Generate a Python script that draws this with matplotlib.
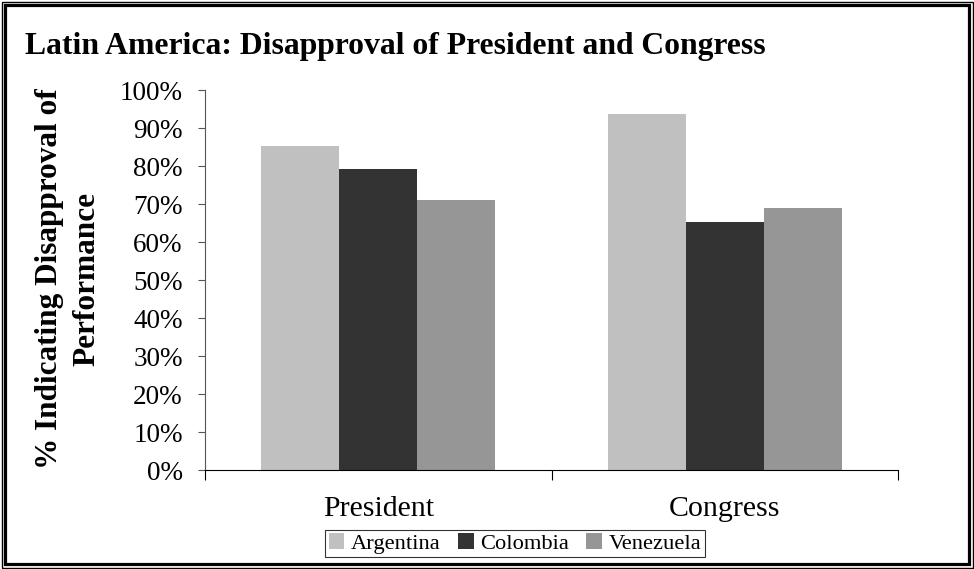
import matplotlib
matplotlib.use("Agg")
import matplotlib.pyplot as plt
from matplotlib.patches import Rectangle
import numpy as np

categories = ["President", "Congress"]
countries = ["Argentina", "Colombia", "Venezuela"]
argentina = [0.853, 0.936]
colombia = [0.792, 0.653]
venezuela = [0.710, 0.689]
series = [argentina, colombia, venezuela]
colors = ["#C0C0C0", "#333333", "#969696"]
yticks = np.arange(0, 1.01, 0.1)
ytick_labels = ["%d%%" % round(v * 100) for v in yticks]

plt.rcParams["font.family"] = ["Liberation Serif", "DejaVu Serif"]

W, H = 974, 569
fig = plt.figure(figsize=(W / 100, H / 100), dpi=100)
ax = fig.add_axes([205 / W, 1 - 470 / H, (898 - 205) / W, (470 - 90) / H])

x = np.arange(len(categories))
width = 0.2254
for i, (vals, c, name) in enumerate(zip(series, colors, countries)):
    ax.bar(x + (i - 1) * width, vals, width, color=c, label=name, linewidth=0)

ax.set_xlim(-0.5, 1.5)
ax.set_ylim(0, 1)
ax.set_yticks(yticks)
ax.set_yticklabels(ytick_labels, fontsize=19.5)
ax.tick_params(axis="y", direction="out", length=5, width=0.8, pad=11, color="#555555")

ax.set_xticks(x)
ax.set_xticklabels(categories, fontsize=21.5)
ax.tick_params(axis="x", which="major", length=0, pad=19)
ax.set_xticks([-0.5, 0.5, 1.5], minor=True)
ax.tick_params(axis="x", which="minor", direction="out", length=7, width=0.8)

for s in ["top", "right"]:
    ax.spines[s].set_visible(False)
ax.spines["left"].set_color("#555555")
ax.spines["left"].set_linewidth(0.8)
ax.spines["bottom"].set_linewidth(0.8)

fig.text(68 / W, 1 - 279 / H, "% Indicating Disapproval of\nPerformance",
         fontsize=22.5, fontweight="bold", rotation=90, ha="center", va="center",
         multialignment="center", linespacing=1.4)

fig.text(25 / W, 1 - 54 / H, "Latin America: Disapproval of President and Congress",
         fontsize=22.8, fontweight="bold", va="baseline", ha="left")

leg = fig.legend(loc="center", bbox_to_anchor=(515 / W, 1 - 543.5 / H), ncol=3,
                 fontsize=16.2, frameon=True, fancybox=False, handlelength=0.7,
                 handleheight=0.7, handletextpad=0.3, columnspacing=0.75,
                 borderpad=0.15, borderaxespad=0)
leg.get_frame().set_edgecolor("black")
leg.get_frame().set_linewidth(0.8)

# double border around the chart
fig.patches.append(Rectangle((1.5 / W, 1.5 / H), (W - 3) / W, (H - 3) / H,
                             transform=fig.transFigure, fill=False,
                             edgecolor="black", linewidth=1))
fig.patches.append(Rectangle((5 / W, 5 / H), (W - 10) / W, (H - 10) / H,
                             transform=fig.transFigure, fill=False,
                             edgecolor="black", linewidth=2.3))

fig.savefig("out.png", dpi=100)
